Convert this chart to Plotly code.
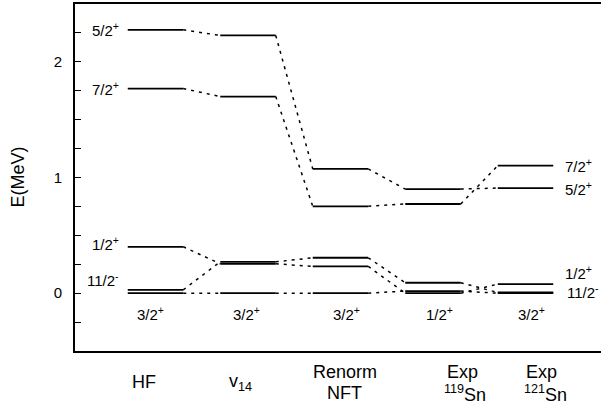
import plotly.graph_objects as go

# ---- data ----
columns = ["HF", "v14", "Renorm NFT", "Exp 119Sn", "Exp 121Sn"]
col_labels_top = ["HF", "v<sub>14</sub>", "Renorm", "Exp", "Exp"]
col_labels_bot = ["", "", "NFT", "<sup>119</sup>Sn", "<sup>121</sup>Sn"]
ground_labels = ["3/2<sup>+</sup>", "3/2<sup>+</sup>", "3/2<sup>+</sup>", "1/2<sup>+</sup>", "3/2<sup>+</sup>"]

E_5_2p = [2.277, 2.228, 1.074, 0.900, 0.909]
E_7_2p = [1.769, 1.700, 0.751, 0.771, 1.102]
E_1_2p = [0.401, 0.254, 0.231, 0.000, 0.078]
E_11_2m = [0.029, 0.271, 0.306, 0.090, 0.006]
E_3_2p = [0.000, 0.000, 0.000, 0.018, 0.000]

states = {
    "5/2<sup>+</sup>": E_5_2p,
    "7/2<sup>+</sup>": E_7_2p,
    "1/2<sup>+</sup>": E_1_2p,
    "11/2<sup>-</sup>": E_11_2m,
    "3/2<sup>+</sup>": E_3_2p,
}

# ---- style / layout constants ----
W = 0.30          # half width of a level (column units)
FONT = "Liberation Sans, Arial, Helvetica, sans-serif"
BLACK = "#000000"
XR = [-0.8703, 4.8162]
YR = [-0.5, 2.5]

def px_(x):
    return (x - XR[0]) / (XR[1] - XR[0])

def py_(y):
    return (y - YR[0]) / (YR[1] - YR[0])

fig = go.Figure()
n = len(columns)
for name, E in states.items():
    xs, ys = [], []
    for i, e in enumerate(E):
        xs += [i - W, i + W, None]
        ys += [e, e, None]
    fig.add_trace(go.Scatter(x=xs, y=ys, mode="lines",
                             line=dict(color=BLACK, width=1.8),
                             showlegend=False, hoverinfo="skip"))
    xs, ys = [], []
    for i in range(n - 1):
        xs += [i + W, i + 1 - W, None]
        ys += [E[i], E[i + 1], None]
    fig.add_trace(go.Scatter(x=xs, y=ys, mode="lines",
                             line=dict(color=BLACK, width=1.5, dash="3px,5px"),
                             showlegend=False, hoverinfo="skip"))

ann = []
def txt(x, y, t, size=15, xa="center", ya="middle", angle=0):
    ann.append(dict(x=px_(x), y=py_(y), xref="paper", yref="paper", text=t, showarrow=False,
                    xanchor=xa, yanchor=ya, textangle=angle,
                    font=dict(size=size, color=BLACK, family=FONT)))

# left labels (HF column)
left_x = -0.372
txt(left_x, E_5_2p[0], "5/2<sup>+</sup>", xa="right")
txt(left_x, E_7_2p[0], "7/2<sup>+</sup>", xa="right")
txt(left_x, E_1_2p[0] + 0.03, "1/2<sup>+</sup>", xa="right")
txt(left_x, E_11_2m[0] + 0.09, "11/2<sup>-</sup>", xa="right")

# right labels (121Sn column)
right_x = 4.405
txt(right_x, E_7_2p[4], "7/2<sup>+</sup>", xa="left")
txt(right_x, E_5_2p[4], "5/2<sup>+</sup>", xa="left")
txt(right_x, E_1_2p[4] + 0.10, "1/2<sup>+</sup>", xa="left")
txt(right_x + 0.02, E_11_2m[4] + 0.005, "11/2<sup>-</sup>", xa="left")

# ground-state labels under levels
g_off = [-0.05, -0.015, 0.07, 0.07, 0.07]
for i, g in enumerate(ground_labels):
    txt(i + g_off[i], -0.18, g)

# column names
top_x = [-0.124, 0.914, 2.049, 3.314, 4.178]
bot_x = [0, 0, 2.038, 3.346, 4.211]
for i in range(n):
    if col_labels_bot[i]:
        txt(top_x[i], -0.68, col_labels_top[i], size=18)
        txt(bot_x[i], -0.865, col_labels_bot[i], size=18)
    else:
        txt(top_x[i], -0.77, col_labels_top[i], size=18)

# y axis title
txt(-1.497, 1.0, "E(MeV)", size=18, angle=-90)

fig.update_layout(
    width=601, height=408,
    margin=dict(l=75, r=0, t=4, b=57),
    paper_bgcolor="white", plot_bgcolor="white",
    annotations=ann,
    xaxis=dict(range=XR, showgrid=False, zeroline=False,
               showticklabels=False, ticks="", showline=True, linecolor=BLACK,
               linewidth=2, mirror=True),
    yaxis=dict(range=YR, showgrid=False, zeroline=False,
               showline=True, linecolor=BLACK, linewidth=2, mirror=False,
               tickmode="array", tickvals=[0, 1, 2], ticktext=["0", "1", "2"],
               ticks="inside", ticklen=6, tickwidth=1, tickcolor=BLACK,
               ticklabelstandoff=8,
               minor=dict(tickmode="array", tickvals=[-0.25, 0.25, 0.5, 0.75, 1.25, 1.5, 1.75, 2.25],
                          ticks="inside", ticklen=6, tickwidth=1, tickcolor=BLACK),
               tickfont=dict(size=15, color=BLACK, family=FONT)),
)

fig.write_html("out.html", config={"displayModeBar": False},
               post_script="document.body.style.margin='0';document.body.style.padding='0';document.body.style.overflow='hidden';")
